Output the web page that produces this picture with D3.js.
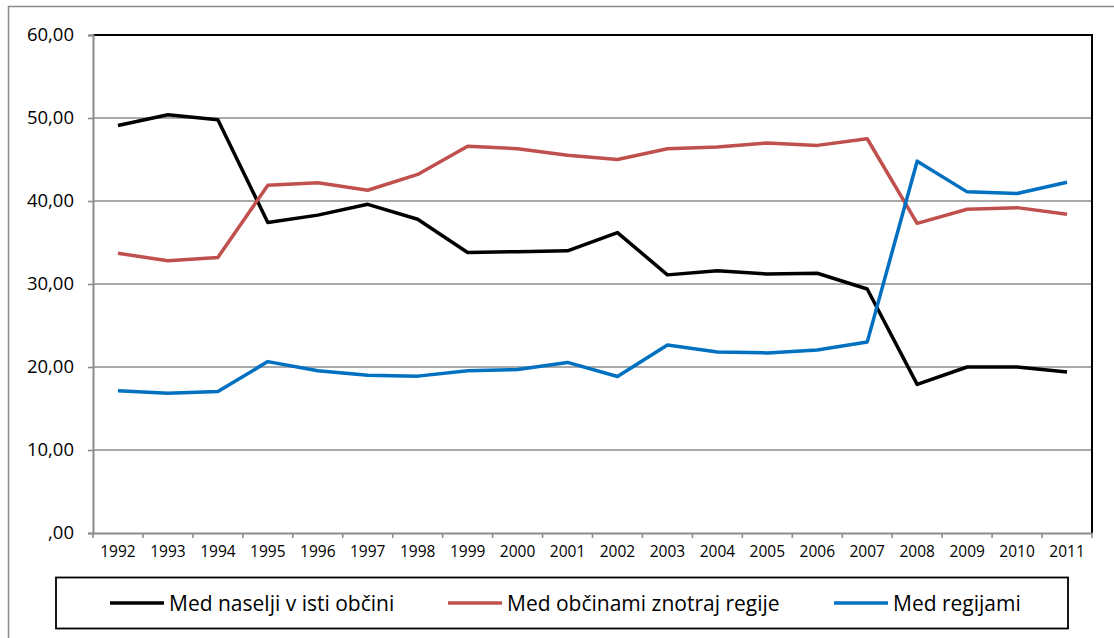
<!DOCTYPE html>
<html>
<head>
<meta charset="utf-8">
<script src="https://cdn.jsdelivr.net/npm/d3@7"></script>
<style>
  html, body { margin: 0; padding: 0; background: #fff; overflow: hidden; }
  svg { display: block; font-family: "Open Sans", sans-serif; }
</style>
</head>
<body>
<svg id="chart" width="1114" height="638"></svg>
<script>
const years = ["1992","1993","1994","1995","1996","1997","1998","1999","2000","2001","2002","2003","2004","2005","2006","2007","2008","2009","2010","2011"];
const yTicks = [0, 10, 20, 30, 40, 50, 60];
const seriesNames = ["Med naselji v isti občini", "Med občinami znotraj regije", "Med regijami"];
const seriesColors = ["#000000", "#C0504D", "#0070C0"];
const withinMunicipality = [49.1, 50.4, 49.8, 37.4, 38.3, 39.6, 37.8, 33.8, 33.9, 34.0, 36.2, 31.1, 31.6, 31.2, 31.3, 29.4, 17.9, 20.0, 20.0, 19.4];
const withinRegion = [33.7, 32.8, 33.2, 41.9, 42.2, 41.3, 43.2, 46.6, 46.3, 45.5, 45.0, 46.3, 46.5, 47.0, 46.7, 47.5, 37.3, 39.0, 39.2, 38.4];
const betweenRegions = [17.15, 16.85, 17.05, 20.65, 19.55, 19.0, 18.9, 19.55, 19.7, 20.55, 18.85, 22.65, 21.8, 21.7, 22.05, 23.0, 44.8, 41.1, 40.9, 42.25];

const seriesValues = [withinMunicipality, withinRegion, betweenRegions];

const svg = d3.select("#chart");
const plot = { left: 93, right: 1092, top: 35, bottom: 533 };

const x = d3.scaleBand().domain(years).range([plot.left, plot.right]).padding(0);
const y = d3.scaleLinear().domain([0, 60]).range([plot.bottom, plot.top]);

// outer chart frame (extends beyond the window on right/bottom)
svg.append("rect")
  .attr("x", 8.5).attr("y", 6.5).attr("width", 1120).attr("height", 650)
  .attr("fill", "none").attr("stroke", "#8c8c8c").attr("stroke-width", 1.5);

// gridlines
svg.append("g").selectAll("line")
  .data(yTicks.filter(d => d > 0 && d < 60))
  .join("line")
  .attr("x1", plot.left).attr("x2", plot.right)
  .attr("y1", d => y(d)).attr("y2", d => y(d))
  .attr("stroke", "#8c8c8c").attr("stroke-width", 1.6);

// plot border top and right (black)
svg.append("path")
  .attr("d", `M${plot.left},${y(60)}H${plot.right}V${plot.bottom}`)
  .attr("fill", "none").attr("stroke", "#000").attr("stroke-width", 2);

// y axis
const yAxis = d3.axisLeft(y).tickValues(yTicks).tickSize(5).tickPadding(14)
  .tickFormat(d => d === 0 ? ",00" : d3.format(".2f")(d).replace(".", ","));
const gy = svg.append("g").attr("transform", `translate(${plot.left},0)`).call(yAxis);
gy.select(".domain").attr("stroke", "#8c8c8c").attr("stroke-width", 2);
gy.selectAll(".tick line").attr("stroke", "#8c8c8c").attr("stroke-width", 1.6);
gy.selectAll(".tick text").attr("font-family", "Open Sans").attr("font-size", "18.5px").attr("fill", "#000");

// x axis
const xAxis = d3.axisBottom(x).tickSize(0).tickPadding(13);
const gx = svg.append("g").attr("transform", `translate(0,${plot.bottom})`).call(xAxis);
gx.select(".domain").attr("stroke", "#8c8c8c").attr("stroke-width", 2);
gx.selectAll(".tick text").attr("font-family", "Open Sans").attr("font-size", "15.5px").attr("fill", "#000");
// category boundary ticks
const bounds = years.map(d => x(d)).concat([x(years[years.length - 1]) + x.bandwidth()]);
svg.append("g").selectAll("line").data(bounds).join("line")
  .attr("x1", d => d).attr("x2", d => d)
  .attr("y1", plot.bottom).attr("y2", plot.bottom + 5)
  .attr("stroke", "#8c8c8c").attr("stroke-width", 1.6);

// lines
const line = d3.line()
  .x((d, i) => x(years[i]) + x.bandwidth() / 2)
  .y(d => y(d));
svg.append("g").selectAll("path")
  .data(seriesValues)
  .join("path")
  .attr("d", d => line(d))
  .attr("fill", "none")
  .attr("stroke", (d, i) => seriesColors[i])
  .attr("stroke-width", 3.5)
  .attr("stroke-linejoin", "round");

// legend
const legend = svg.append("g");
legend.append("rect")
  .attr("x", 56).attr("y", 577.5).attr("width", 1012).attr("height", 51)
  .attr("fill", "#fff").attr("stroke", "#000").attr("stroke-width", 1.8);
const legendX = [110, 448, 834];
const items = legend.selectAll("g.item").data(seriesNames).join("g").attr("class", "item")
  .attr("transform", (d, i) => `translate(${legendX[i]},603)`);
items.append("line").attr("x1", 0).attr("x2", 54).attr("y1", 0).attr("y2", 0)
  .attr("stroke", (d, i) => seriesColors[i]).attr("stroke-width", 3.5);
items.append("text").attr("x", 59).attr("y", 7.5)
  .attr("font-family", "Open Sans").attr("font-size", "21px").attr("fill", "#000")
  .text(d => d);
</script>
</body>
</html>
